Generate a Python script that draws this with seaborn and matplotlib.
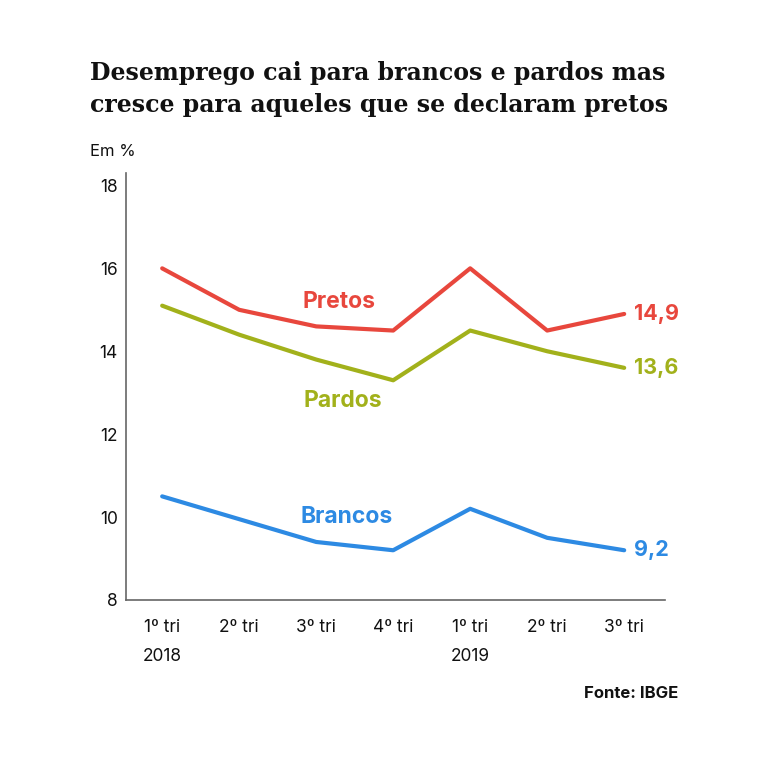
import pandas as pd
import seaborn as sns
import matplotlib.pyplot as plt

# Dados (taxa de desemprego, em %)
trimestres = ['1º tri\n2018', '2º tri', '3º tri', '4º tri', '1º tri\n2019', '2º tri', '3º tri']
pretos = [16.0, 15.0, 14.6, 14.5, 16.0, 14.5, 14.9]
pardos = [15.1, 14.4, 13.8, 13.3, 14.5, 14.0, 13.6]
brancos = [10.5, 9.95, 9.4, 9.2, 10.2, 9.5, 9.2]
grupos = ['Pretos', 'Pardos', 'Brancos']
cores = {'Pretos': '#e8473d', 'Pardos': '#a2b11b', 'Brancos': '#2d8ae3'}

linhas = []
for nome, valores in zip(grupos, [pretos, pardos, brancos]):
    for i, v in enumerate(valores):
        linhas.append({'x': i, 'taxa': v, 'grupo': nome})
df = pd.DataFrame(linhas)

sns.set_theme(style="white")
plt.rcParams['font.family'] = ['Inter', 'DejaVu Sans']

fig = plt.figure(figsize=(7.68, 7.72), dpi=100)
ax = fig.add_axes([126 / 768, 1 - 600 / 772, (665 - 126) / 768, (600 - 173) / 772])

sns.lineplot(data=df, x='x', y='taxa', hue='grupo', palette=cores, linewidth=3,
             legend=False, ax=ax)

ax.set_xlim(-0.47, 6.53)
ax.set_ylim(8, 18.3)
ax.set_yticks([8, 10, 12, 14, 16, 18])
ax.set_xticks(range(len(trimestres)))
ax.set_xticklabels(trimestres, linespacing=1.9, va='top')
ax.set_xlabel('')
ax.set_ylabel('')

for lado in ['top', 'right']:
    ax.spines[lado].set_visible(False)
for lado in ['left', 'bottom']:
    ax.spines[lado].set_color('#666666')
    ax.spines[lado].set_linewidth(1.2)
ax.tick_params(axis='both', direction='in', length=8, width=1.2, color='#666666',
               labelsize=12.5, labelcolor='#111111')
ax.tick_params(axis='x', pad=14)
ax.tick_params(axis='y', pad=6)

# rótulos das séries
ax.text(2.3, 15.2, 'Pretos', color=cores['Pretos'], fontsize=16.5, fontweight='bold', ha='center', va='center')
ax.text(2.35, 12.8, 'Pardos', color=cores['Pardos'], fontsize=16.5, fontweight='bold', ha='center', va='center')
ax.text(2.4, 10.0, 'Brancos', color=cores['Brancos'], fontsize=16.5, fontweight='bold', ha='center', va='center')

# valores finais
for nome, valores in zip(grupos, [pretos, pardos, brancos]):
    ax.text(6.13, valores[-1], f'{valores[-1]:.1f}'.replace('.', ','), color=cores[nome],
            fontsize=15.5, fontweight='bold', ha='left', va='center')

fig.text(90 / 768, 1 - 89 / 772, 'Desemprego cai para brancos e pardos mas\ncresce para aqueles que se declaram pretos',
         fontsize=17, fontweight='bold', family=['DejaVu Serif'], ha='left', va='center',
         color='#111111', linespacing=1.45)
fig.text(90 / 768, 1 - 152 / 772, 'Em %', fontsize=12, ha='left', va='center', color='#111111')
fig.text(678 / 768, 1 - 694 / 772, 'Fonte: IBGE', fontsize=12, fontweight='bold', ha='right', va='center',
         color='#111111')

fig.savefig('out.png', dpi=100, facecolor='white')
